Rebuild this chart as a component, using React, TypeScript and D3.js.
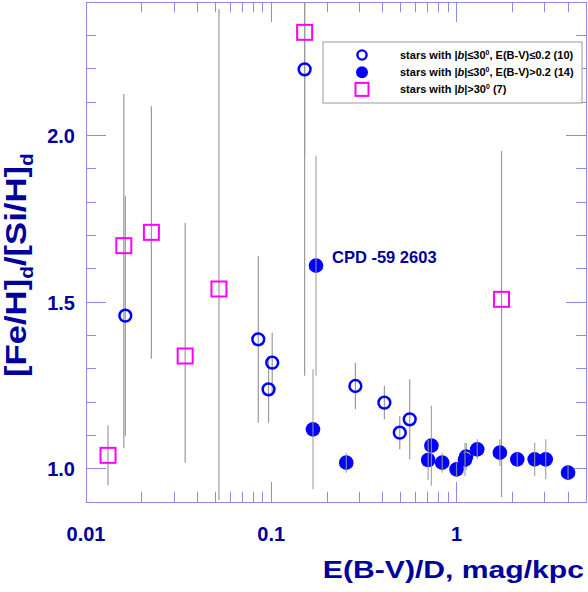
import React from "react"
import * as d3 from "d3"

// |b|>30 stars (squares)
const sqX = [0.01315, 0.016, 0.02254, 0.0343, 0.0522, 0.1514, 1.75]
const sqY = [1.04, 1.669, 1.709, 1.338, 1.539, 2.309, 1.508]
const sqLo = [0.09, 0.607, 0.379, 0.32, 0.633, 1.03, 0.593]
const sqHi = [0.09, 0.455, 0.378, 0.4, 0.84, 1.03, 0.445]

// |b|<=30, E(B-V)<=0.2 (open circles)
const openX = [0.0163, 0.0851, 0.1012, 0.0967, 0.1514, 0.2845, 0.408, 0.494, 0.559, 1.128]
const openY = [1.459, 1.388, 1.318, 1.238, 2.198, 1.248, 1.198, 1.108, 1.148, 1.037]
const openErr = [0.36, 0.25, 0.09, 0.1, 0.26, 0.07, 0.05, 0.05, 0.12, 0.04]

// |b|<=30, E(B-V)>0.2 (filled circles)
const fillX = [0.168, 0.1744, 0.254, 0.732, 0.703, 0.837, 1.0, 1.111, 1.294, 1.714, 2.128, 2.641, 3.03, 4.0]
const fillY = [1.118, 1.609, 1.018, 1.069, 1.026, 1.018, 0.998, 1.027, 1.058, 1.048, 1.028, 1.028, 1.028, 0.988]
const fillErr = [0.18, 0.33, 0.03, 0.12, 0.06, 0.03, 0.02, 0.05, 0.03, 0.04, 0.02, 0.05, 0.06, 0.02]

const namedStar = {index: 1, label: "CPD -59 2603"}

const xTickLabels = ["0.01", "0.1", "1"]
const yTickLabels = ["1.0", "1.5", "2.0"]

const legendCounts = ["10", "14", "7"]

const W = 588, H = 592
const margin = {top: 2, right: 2, bottom: 90, left: 86}
const font = "'Liberation Sans', Arial, Helvetica, sans-serif"
const frameCol = "#8c8ce6"
const labelCol = "#00009c"
const barCol = "#9a9a9a"
const blue = "#0000ff"
const magenta = "#ff00ff"

const App = () => {
    const x = d3.scaleLog().domain([0.01, 5]).range([margin.left, W - margin.right])
    const y = d3.scaleLinear().domain([0.9, 2.4]).range([H - margin.bottom, margin.top])
    const [x0, x1] = x.range()
    const [y0, y1] = y.range()
    const clipY = (v) => Math.max(y1, Math.min(y0, v))

    const xTicks = x.ticks()
    const isMajorX = (v) => Math.abs(Math.log10(v) - Math.round(Math.log10(v))) < 1e-6
    const yTicks = y.ticks(15)
    const isMajorY = (v) => Math.abs(v * 2 - Math.round(v * 2)) < 1e-6

    const bar = (key, xv, yv, lo, hi) => (
        <line key={key} x1={x(xv)} x2={x(xv)} y1={clipY(y(yv + hi))} y2={clipY(y(yv - lo))}
            stroke={barCol} strokeWidth={1.2} />
    )

    const legX = 323, legY = 42, legW = 259, legH = 61
    const rowY = (i) => legY + 13 + i * 17.2

    return (
        <svg width={W} height={H} style={{position: "absolute", left: 0, top: 0}} fontFamily={font}>
            <rect width={W} height={H} fill="#fff" />

            {/* ticks */}
            <g stroke={frameCol} strokeWidth={1} shapeRendering="crispEdges">
                {xTicks.map((v, i) => {
                    const len = isMajorX(v) ? 20 : 10
                    return (
                        <g key={"xt" + i}>
                            <line x1={x(v)} x2={x(v)} y1={y0} y2={y0 - len} />
                            <line x1={x(v)} x2={x(v)} y1={y1} y2={y1 + len} />
                        </g>
                    )
                })}
                {yTicks.map((v, i) => {
                    const len = isMajorY(v) ? 20 : 10
                    return (
                        <g key={"yt" + i}>
                            <line x1={x0} x2={x0 + len} y1={y(v)} y2={y(v)} />
                            <line x1={x1} x2={x1 - len} y1={y(v)} y2={y(v)} />
                        </g>
                    )
                })}
                <rect x={x0} y={y1} width={x1 - x0} height={y0 - y1} fill="none" />
            </g>

            {/* tick labels */}
            <g fill={labelCol} fontSize={20} fontWeight="bold">
                {xTicks.filter(isMajorX).map((v, i) => (
                    <text key={"xl" + i} x={x(v)} y={y0 + 39} textAnchor="middle">{xTickLabels[i]}</text>
                ))}
                {yTicks.filter(isMajorY).filter(v => v > 0.95).map((v, i) => (
                    <text key={"yl" + i} x={x0 - 11} y={y(v) + 7.5} textAnchor="end">{yTickLabels[i]}</text>
                ))}
            </g>

            {/* axis titles */}
            <text transform={`translate(584,577.5) scale(1.23,1)`} textAnchor="end" fill={labelCol}
                fontSize={24.5} fontWeight="bold">E(B-V)/D, mag/kpc</text>
            <text transform={`translate(26,377) rotate(-90) scale(1.156,1)`} fill={labelCol}
                fontSize={30} fontWeight="bold">
                [Fe/H]<tspan fontSize={18} dy={7.3}>d</tspan><tspan dy={-7.3}>/[Si/H]</tspan><tspan fontSize={18} dy={7.3}>d</tspan>
            </text>

            {/* squares and open circles with error bars */}
            {sqX.map((v, i) => bar("sb" + i, v, sqY[i], sqLo[i], sqHi[i]))}
            {openX.map((v, i) => bar("ob" + i, v, openY[i], openErr[i], openErr[i]))}
            {sqX.map((v, i) => (
                <rect key={"sq" + i} x={x(v) - 7.5} y={y(sqY[i]) - 7.5} width={15} height={15}
                    fill="none" stroke={magenta} strokeWidth={2} />
            ))}
            {openX.map((v, i) => (
                <circle key={"oc" + i} cx={x(v)} cy={y(openY[i])} r={5.9}
                    fill="none" stroke={blue} strokeWidth={2.5} />
            ))}

            {/* filled circles, bars over them */}
            {fillX.map((v, i) => (
                <circle key={"fc" + i} cx={x(v)} cy={y(fillY[i])} r={7.3} fill={blue} />
            ))}
            <g opacity={0.85}>
                {fillX.map((v, i) => bar("fb" + i, v, fillY[i], fillErr[i], fillErr[i]))}
            </g>

            <text x={x(fillX[namedStar.index]) + 16} y={y(fillY[namedStar.index]) - 3}
                fill={labelCol} fontSize={16.5} fontWeight="bold">{namedStar.label}</text>

            {/* legend */}
            <rect x={legX} y={legY} width={legW} height={legH} fill="#fff" stroke="#999" strokeWidth={1} />
            <circle cx={362} cy={rowY(0)} r={4.6} fill="none" stroke={blue} strokeWidth={2.4} />
            <circle cx={362} cy={rowY(1)} r={6} fill={blue} />
            <rect x={355.5} y={rowY(2) - 6.5} width={13} height={13} fill="none" stroke={magenta} strokeWidth={2} />
            <g fontSize={11} fontWeight="bold" fill="#000">
                <text x={400} y={rowY(0) + 4}>
                    stars with |<tspan fontStyle="italic">b</tspan>|≤30<tspan fontSize={7} dy={-4}>0</tspan><tspan dy={4}>, E(B-V)≤0.2 ({legendCounts[0]})</tspan>
                </text>
                <text x={400} y={rowY(1) + 4}>
                    stars with |<tspan fontStyle="italic">b</tspan>|≤30<tspan fontSize={7} dy={-4}>0</tspan><tspan dy={4}>, E(B-V)&gt;0.2 ({legendCounts[1]})</tspan>
                </text>
                <text x={400} y={rowY(2) + 4}>
                    stars with |<tspan fontStyle="italic">b</tspan>|&gt;30<tspan fontSize={7} dy={-4}>0</tspan><tspan dy={4}> ({legendCounts[2]})</tspan>
                </text>
            </g>
        </svg>
    )
}

export default App
